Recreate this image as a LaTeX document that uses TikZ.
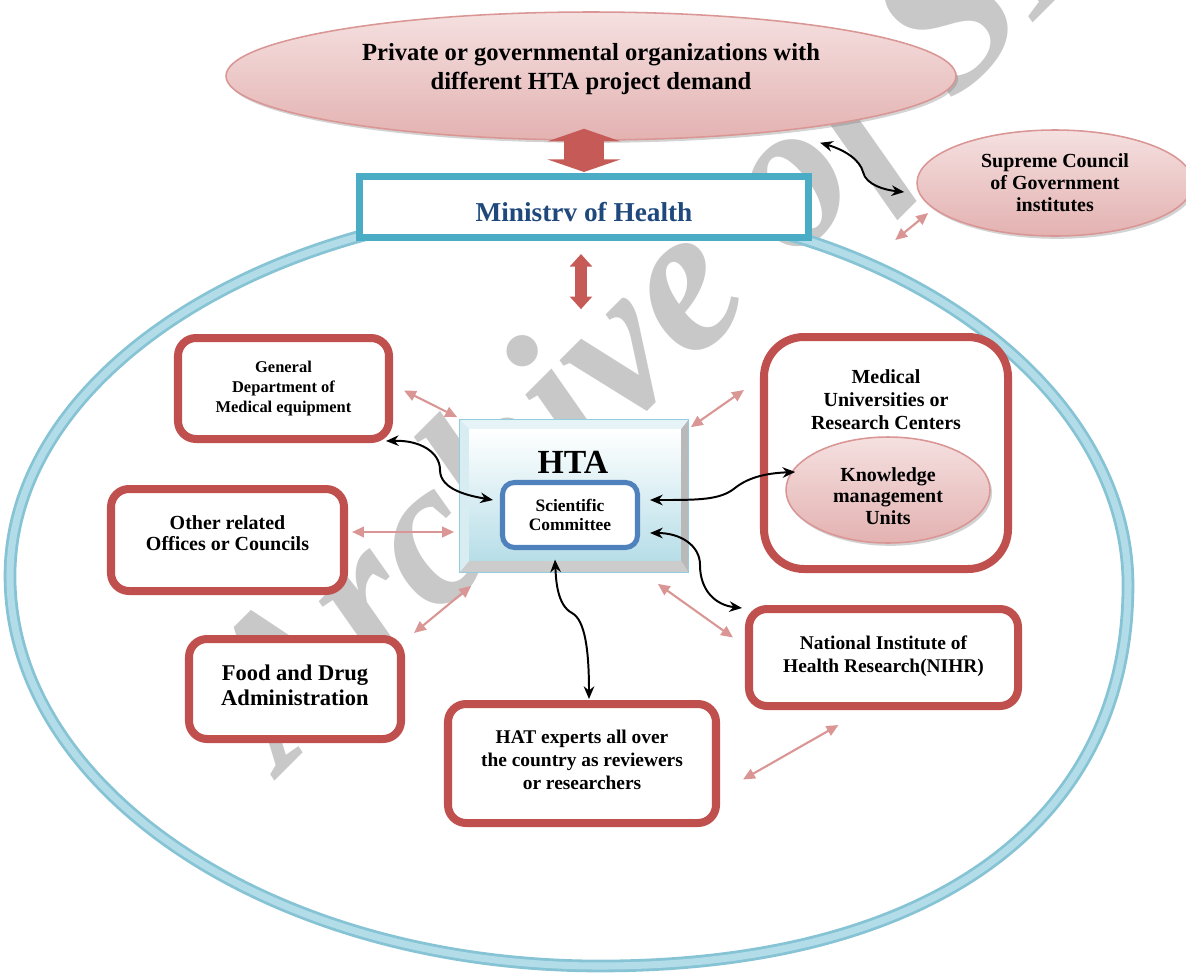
\documentclass[tikz,border=0pt]{standalone}
\usepackage{fontspec}
\setmainfont{Liberation Serif}
\usetikzlibrary{shapes.geometric,arrows.meta,shadows}
\definecolor{redb}{HTML}{C0504D}
\definecolor{pinkln}{HTML}{D99694}
\definecolor{pinktop}{HTML}{F5E0E0}
\definecolor{pinkbot}{HTML}{E3B2B1}
\definecolor{tealb}{HTML}{4BACC6}
\definecolor{navyt}{HTML}{1F497D}
\definecolor{sblue}{HTML}{4F81BD}
\definecolor{ringout}{HTML}{86C3D4}
\definecolor{ringin}{HTML}{B2DDE8}
\definecolor{htaln}{HTML}{93CDDD}
\definecolor{htabot}{HTML}{B7DEE8}
\definecolor{wmark}{RGB}{200,200,200}
\definecolor{fatred}{HTML}{C65A57}
\newcommand\fsz[2]{\fontsize{#1}{#2}\selectfont}
\newcommand\lift[2]{\raisebox{#1}[\height][\depth]{\begin{tabular}{@{}c@{}}#2\end{tabular}}}
\begin{document}
\begin{tikzpicture}[x=0.025cm, y=-0.025cm,
  wh/.style 2 args={minimum width=#1*0.025cm, minimum height=#2*0.025cm},
  fnt/.style 2 args={font=\bfseries\fsz{#1}{#2}},
  redbox/.style={draw=redb, line width=5.7pt, fill=white, rounded corners=0.45cm, align=center, inner sep=0pt},
  innerline/.style={draw=redb, line width=1.3pt, rounded corners=0.3cm},
  pinkell/.style={ellipse, draw=pinkln, line width=1.1pt, top color=pinktop, bottom color=pinkbot, align=center, inner sep=0pt,
     drop shadow={shadow xshift=1.5pt, shadow yshift=-2pt, opacity=0.35}},
  pk/.style={draw=pinkln, line width=1.5pt, <->, >={Stealth[inset=0pt,length=8.5pt,width=7.5pt]}},
  bk/.style={draw=black, line width=1.4pt, <->, >={Stealth[length=9pt,width=7.5pt]}},
  fat/.style={draw=fatred, fill=fatred}
]
\useasboundingbox (0,0) rectangle (1186,976);

% watermark
\node[rotate=45, anchor=base west, text=wmark, font=\bfseries\itshape\fsz{148}{150}, inner sep=0pt] (wm) at (282,774) {Archive of SID};

% outer ring
\draw[ringin, line width=5pt, preaction={draw=ringout, line width=9pt}]
  (585,206) .. controls (880,206) and (1128,380) .. (1128,585)
  .. controls (1128,830) and (920,966) .. (600,966)
  .. controls (274,966) and (10,791) .. (10,576)
  .. controls (10,371) and (275,206) .. (585,206) -- cycle;

% top ellipse
\node[pinkell, wh={730}{128}, fnt={17.5}{20.6}] (po) at (591,76) {\lift{5pt}{Private or governmental organizations with\\different HTA project demand}};

% supreme council
\node[pinkell, wh={276}{106}, fnt={14.2}{15.6}] (sp) at (1055,183) {Supreme Council\\of Government\\institutes};

% ministry
\node[draw=tealb, line width=4.3pt, fill=white, wh={450}{62}, fnt={19.4}{22}, text=navyt, inner sep=0pt] (moh) at (584,207) {\lift{-5.8pt}{Ministrv of Health}};
\draw[tealb, line width=1.4pt] ([shift={(6,6)}]moh.north west) rectangle ([shift={(-6,-6)}]moh.south east);

% HTA box
\node[draw=htaln, line width=1.2pt, fill=htabot!70, wh={228}{152}, inner sep=0pt] (hta) at (574,496) {};
\fill[gray!55] (hta.north east) -- (hta.south east) -- ([shift={(-8,-12)}]hta.south east) -- ([shift={(-8,10)}]hta.north east) -- cycle;
\fill[gray!40] (hta.south west) -- (hta.south east) -- ([shift={(-8,-12)}]hta.south east) -- ([shift={(10,-12)}]hta.south west) -- cycle;
\fill[htabot!35] (hta.north west) -- (hta.north east) -- ([shift={(-8,10)}]hta.north east) -- ([shift={(10,10)}]hta.north west) -- cycle;
\fill[htabot!55] (hta.north west) -- ([shift={(10,10)}]hta.north west) -- ([shift={(10,-12)}]hta.south west) -- (hta.south west) -- cycle;
\shade[top color=white, bottom color=htabot] ([shift={(10,10)}]hta.north west) rectangle ([shift={(-8,-12)}]hta.south east);
\draw[htaln, line width=0.8pt] (hta.north west) rectangle (hta.south east);
\node[fnt={24}{28}] (htat) at (573,462) {HTA};
\node[draw=sblue, line width=3.6pt, fill=white, rounded corners=0.3cm, wh={135}{65}, fnt={12.4}{13.5}, align=center, inner sep=0pt] (sc) at (570,515) {Scientific\\Committee};

% red boxes
\node[redbox, wh={211}{101}, fnt={11.7}{14.2}] (gd) at (283.5,388.5) {General\\Department of\\Medical equipment};
\node[redbox, wh={233}{102}, fnt={14.2}{15.2}] (ot) at (227.5,540) {\lift{2.9pt}{Other related\\Offices or Councils}};
\node[redbox, wh={212}{100}, fnt={16}{17.8}] (fd) at (295,689) {\lift{0.4pt}{Food and Drug\\Administration}};
\node[redbox, wh={268}{119}, fnt={13.8}{16.4}] (hat) at (582,763.5) {\lift{1.1pt}{HAT experts all over\\the country as reviewers\\or researchers}};
\node[redbox, wh={269}{97}, fnt={13.8}{16.4}] (ni) at (883.5,657.5) {\lift{0.9pt}{National Institute of\\Health Research(NIHR)}};
\node[redbox, rounded corners=1cm, wh={244}{232}] (mu) at (886,453) {};
\foreach \n in {gd,ot,fd,hat,ni}
  \draw[innerline] ([shift={(7,7)}]\n.north west) rectangle ([shift={(-7,-7)}]\n.south east);
\draw[innerline, rounded corners=0.8cm] ([shift={(7,7)}]mu.north west) rectangle ([shift={(-7,-7)}]mu.south east);
\node[fnt={14.2}{16.4}, align=center] (mut) at (886,400) {Medical\\Universities or\\Research Centers};
\node[pinkell, wh={204}{106}, fnt={14.2}{15.6}] (ku) at (888,490) {\lift{-6.1pt}{Knowledge\\management\\Units}};

% fat arrows
\draw[fat, line width=28pt, arrows={Triangle[length=9pt,width=52pt]-Triangle[length=9pt,width=52pt]}]
  ([shift={(-7,-12)}]po.south) -- ([shift={(0,-1)}]moh.north);
\draw[fat, line width=8.5pt, arrows={Triangle[length=9pt,width=15.6pt]-Triangle[length=9pt,width=15.6pt]}]
  ([shift={(-3,13)}]moh.south) -- ([shift={(7,-110)}]hta.north);

% pink arrows
\draw[pk] ([shift={(11,2)}]gd.east) -- ([shift={(-2,-2)}]hta.north west);
\draw[pk] ([shift={(4,-8)}]ot.east) -- ([shift={(-5,36)}]hta.west);
\draw[pk] ([shift={(9,-2)}]fd.north east) -- ([shift={(12,13)}]hta.south west);
\draw[pk] ([shift={(2,8)}]hta.north east) -- ([shift={(-16,-63)}]mu.west);
\draw[pk] ([shift={(-31,11)}]hta.south east) -- ([shift={(-12,-20)}]ni.west);
\draw[pk] ([shift={(23,16)}]hat.east) -- ([shift={(-45,15)}]ni.south);
\draw[pk] ([shift={(-21,57)}]sp.west) -- ([shift={(12,30)}]sp.west);

% black arrows
\draw[bk] ([shift={(-7,-2)}]gd.south east) .. controls (420,440) and (440,452) .. (440,470) .. controls (440,490) and (470,496) .. ([shift={(-7,-15)}]sc.west);
\draw[bk] ([shift={(10,-15)}]sc.east) .. controls (700,500) and (720,500) .. (735,488) .. controls (750,476) and (770,473) .. ([shift={(10,-18)}]ku.west);
\draw[bk] ([shift={(10,18)}]sc.east) .. controls (680,533) and (700,545) .. (700,565) .. controls (700,590) and (715,605) .. ([shift={(-3,3)}]ni.north west);
\draw[bk] ([shift={(-15,9.5)}]sc.south) .. controls (556,580) and (557,605) .. (572,613) .. controls (585,620) and (589,650) .. ([shift={(7,-1)}]hat.north);
\draw[bk] ([shift={(-5,17)}]po.-12) .. controls (845,150) and (860,160) .. (863,172) .. controls (866,185) and (885,190) .. ([shift={(-12,9)}]sp.west);
\end{tikzpicture}
\end{document}
